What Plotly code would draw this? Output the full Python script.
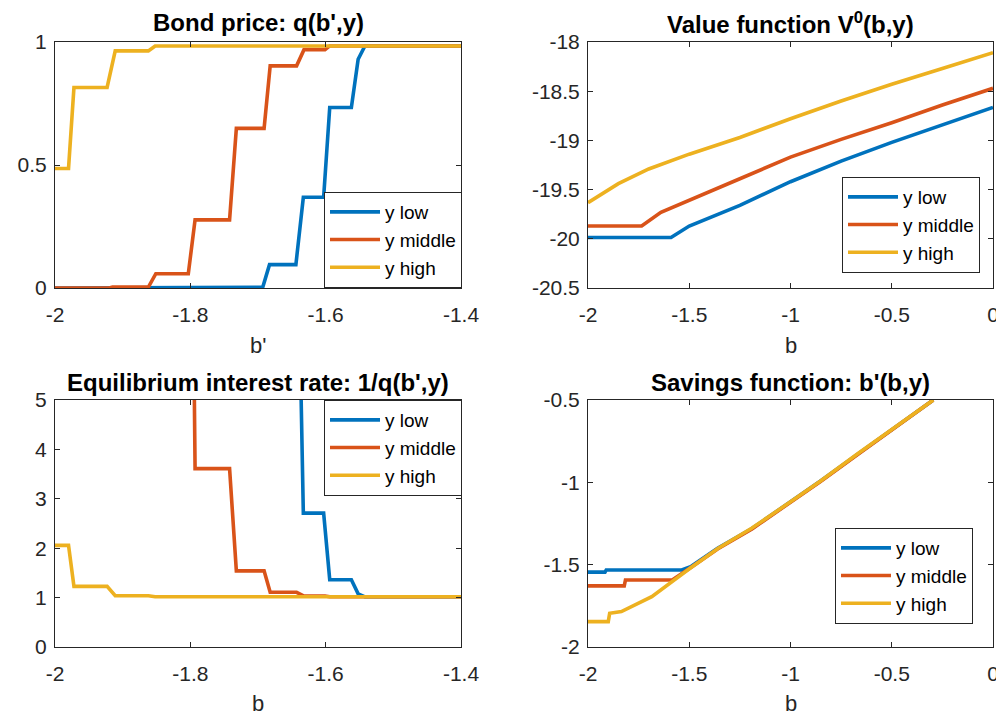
import plotly.graph_objects as go

# ---------------- data ----------------
# Bond price q(b', y): corner points of the step functions
bp_low = [-2, -1.741, -1.734, -1.693, -1.683, -1.644, -1.633, -1.603, -1.594, -1.562, -1.552, -1.542, -1.4]
q_low = [0, 0, 0.003, 0.003, 0.095, 0.095, 0.369, 0.369, 0.734, 0.734, 0.93, 0.984, 0.984]

bp_mid = [-2, -1.92, -1.915, -1.862, -1.851, -1.803, -1.793, -1.742, -1.732, -1.691, -1.682, -1.643, -1.632, -1.601, -1.594, -1.4]
q_mid = [0, 0, 0.004, 0.004, 0.058, 0.058, 0.277, 0.277, 0.649, 0.649, 0.903, 0.903, 0.969, 0.969, 0.984, 0.984]

bp_high = [-2, -1.980, -1.972, -1.923, -1.911, -1.862, -1.852, -1.4]
q_high = [0.486, 0.486, 0.815, 0.815, 0.964, 0.964, 0.984, 0.984]

# Value function V0(b, y)
b_v_low = [-2, -1.59, -1.5, -1.25, -1.0, -0.75, -0.5, -0.25, 0]
v_low = [-19.987, -19.987, -19.87, -19.66, -19.42, -19.21, -19.02, -18.84, -18.665]
b_v_mid = [-2, -1.735, -1.64, -1.5, -1.25, -1.0, -0.75, -0.5, -0.25, 0]
v_mid = [-19.87, -19.87, -19.73, -19.61, -19.39, -19.17, -18.99, -18.82, -18.64, -18.47]
b_v_high = [-2, -1.85, -1.7, -1.5, -1.25, -1.0, -0.75, -0.5, -0.25, 0]
v_high = [-19.633, -19.44, -19.29, -19.14, -18.97, -18.78, -18.6, -18.43, -18.27, -18.108]

# Savings function b'(b, y)
b_s_low = [-2, -1.916, -1.91, -1.537, -1.49, -1.36, -1.19, -1.0, -0.85, -0.67, -0.5, -0.295]
s_low = [-1.545, -1.545, -1.532, -1.532, -1.51, -1.40, -1.28, -1.12, -0.99, -0.83, -0.68, -0.5]
b_s_mid = [-2, -1.821, -1.815, -1.584, -1.49, -1.36, -1.19, -1.0, -0.85, -0.67, -0.5, -0.295]
s_mid = [-1.629, -1.629, -1.593, -1.593, -1.515, -1.405, -1.283, -1.123, -0.993, -0.833, -0.683, -0.5]
b_s_high = [-2, -1.900, -1.893, -1.835, -1.685, -1.586, -1.496, -1.357, -1.192, -1.0, -0.85, -0.67, -0.5, -0.295]
s_high = [-1.846, -1.846, -1.795, -1.785, -1.694, -1.603, -1.522, -1.400, -1.279, -1.118, -0.99, -0.828, -0.678, -0.5]

# Equilibrium interest rate 1/q(b', y) (undefined where q = 0)
r_low = [1 / q if q > 0 else None for q in q_low]
r_mid = [1 / q if q > 0 else None for q in q_mid]
r_high = [1 / q if q > 0 else None for q in q_high]

series_names = ["y low", "y middle", "y high"]

# tick labels
x1_ticks = [-2, -1.8, -1.6, -1.4]
x1_text = ["-2", "-1.8", "-1.6", "-1.4"]
y1_ticks = [0, 0.5, 1]
y1_text = ["0", "0.5", "1"]
x2_ticks = [-2, -1.5, -1, -0.5, 0]
x2_text = ["-2", "-1.5", "-1", "-0.5", "0"]
y2_ticks = [-20.5, -20, -19.5, -19, -18.5, -18]
y2_text = ["-20.5", "-20", "-19.5", "-19", "-18.5", "-18"]
y3_ticks = [0, 1, 2, 3, 4, 5]
y3_text = ["0", "1", "2", "3", "4", "5"]
y4_ticks = [-2, -1.5, -1, -0.5]
y4_text = ["-2", "-1.5", "-1", "-0.5"]

# ---------------- styling ----------------
COLORS = ["#0072BD", "#D95319", "#EDB120"]
FONT = "Liberation Sans, Arial, Helvetica, sans-serif"
# the page body has an 8px margin, so the figure is drawn 8px in from the corner
OFF = 8
W, H = 1004 - OFF, 719 - OFF
LW = 3.6

fig = go.Figure()

panels = [
    ("x", "y", "legend", [(bp_low, q_low), (bp_mid, q_mid), (bp_high, q_high)]),
    ("x2", "y2", "legend2", [(b_v_low, v_low), (b_v_mid, v_mid), (b_v_high, v_high)]),
    ("x3", "y3", "legend3", [(bp_low, r_low), (bp_mid, r_mid), (bp_high, r_high)]),
    ("x4", "y4", "legend4", [(b_s_low, s_low), (b_s_mid, s_mid), (b_s_high, s_high)]),
]
for xa, ya, lg, data in panels:
    for (xs, ys), name, col in zip(data, series_names, COLORS):
        fig.add_trace(go.Scatter(
            x=xs, y=ys, mode="lines", name=name, xaxis=xa, yaxis=ya, legend=lg,
            line=dict(color=col, width=LW), connectgaps=False, hoverinfo="x+y+name",
        ))

def px_x(p):
    return (p - OFF) / W

def px_y(p):
    return 1 - (p - OFF) / H

L1, R1, L2, R2 = 55, 461, 588, 993
T1, B1, T2, B2 = 42, 288, 400, 647

axis_common = dict(
    showgrid=False, zeroline=False, showline=True, linecolor="#262626", linewidth=1,
    mirror="ticks", ticks="inside", ticklen=5, tickcolor="#262626",
    tickfont=dict(family=FONT, size=21, color="#262626"),
    fixedrange=True, automargin=False,
)

def xaxis(dom, rng, tv, tt, anchor):
    return dict(axis_common, domain=[px_x(dom[0]), px_x(dom[1])], range=rng,
                tickvals=tv, ticktext=tt, anchor=anchor, ticklabelstandoff=8)

def yaxis(dom, rng, tv, tt, anchor):
    return dict(axis_common, domain=[px_y(dom[1]), px_y(dom[0])], range=rng,
                tickvals=tv, ticktext=tt, anchor=anchor, ticklabelstandoff=3)

legend_common = dict(
    bgcolor="white", bordercolor="#262626", borderwidth=1,
    font=dict(family=FONT, size=19, color="#000000"),
    itemwidth=50, tracegroupgap=0, xref="paper", yref="paper",
)

fig.update_layout(
    template="none",
    width=W, height=H, margin=dict(l=0, r=0, t=0, b=0, pad=0, autoexpand=False),
    paper_bgcolor="white", plot_bgcolor="white",
    font=dict(family=FONT),
    xaxis=xaxis((L1, R1), [-2, -1.4], x1_ticks, x1_text, "y"),
    yaxis=yaxis((T1, B1), [0, 1], y1_ticks, y1_text, "x"),
    xaxis2=xaxis((L2, R2), [-2, 0], x2_ticks, x2_text, "y2"),
    yaxis2=yaxis((T1, B1), [-20.5, -18], y2_ticks, y2_text, "x2"),
    xaxis3=xaxis((L1, R1), [-2, -1.4], x1_ticks, x1_text, "y3"),
    yaxis3=yaxis((T2, B2), [0, 5], y3_ticks, y3_text, "x3"),
    xaxis4=xaxis((L2, R2), [-2, 0], x2_ticks, x2_text, "y4"),
    yaxis4=yaxis((T2, B2), [-2, -0.5], y4_ticks, y4_text, "x4"),
    legend=dict(legend_common, x=px_x(462), y=px_y(288), xanchor="right", yanchor="bottom"),
    legend2=dict(legend_common, x=px_x(980), y=px_y(273), xanchor="right", yanchor="bottom"),
    legend3=dict(legend_common, x=px_x(462), y=px_y(400), xanchor="right", yanchor="top"),
    legend4=dict(legend_common, x=px_x(973), y=px_y(624), xanchor="right", yanchor="bottom"),
    showlegend=True,
)

titles = [
    ("<b>Bond price: q(b',y)</b>", (L1 + R1) / 2, 23),
    ("<b>Value function V<sup>0</sup>(b,y)</b>", (L2 + R2) / 2, 23),
    ("<b>Equilibrium interest rate: 1/q(b',y)</b>", (L1 + R1) / 2, 382),
    ("<b>Savings function: b'(b,y)</b>", (L2 + R2) / 2, 382),
]
for text, cx, cy in titles:
    fig.add_annotation(text=text, x=px_x(cx), y=px_y(cy), xref="paper", yref="paper",
                       showarrow=False, xanchor="center", yanchor="middle",
                       font=dict(family=FONT, size=24, color="#000000"))

xlabels = [
    ("b'", (L1 + R1) / 2, 345),
    ("b", (L2 + R2) / 2, 345),
    ("b", (L1 + R1) / 2, 703),
    ("b", (L2 + R2) / 2, 703),
]
for text, cx, cy in xlabels:
    fig.add_annotation(text=text, x=px_x(cx), y=px_y(cy), xref="paper", yref="paper",
                       showarrow=False, xanchor="center", yanchor="middle",
                       font=dict(family=FONT, size=22, color="#262626"))

fig.write_html("out.html")
